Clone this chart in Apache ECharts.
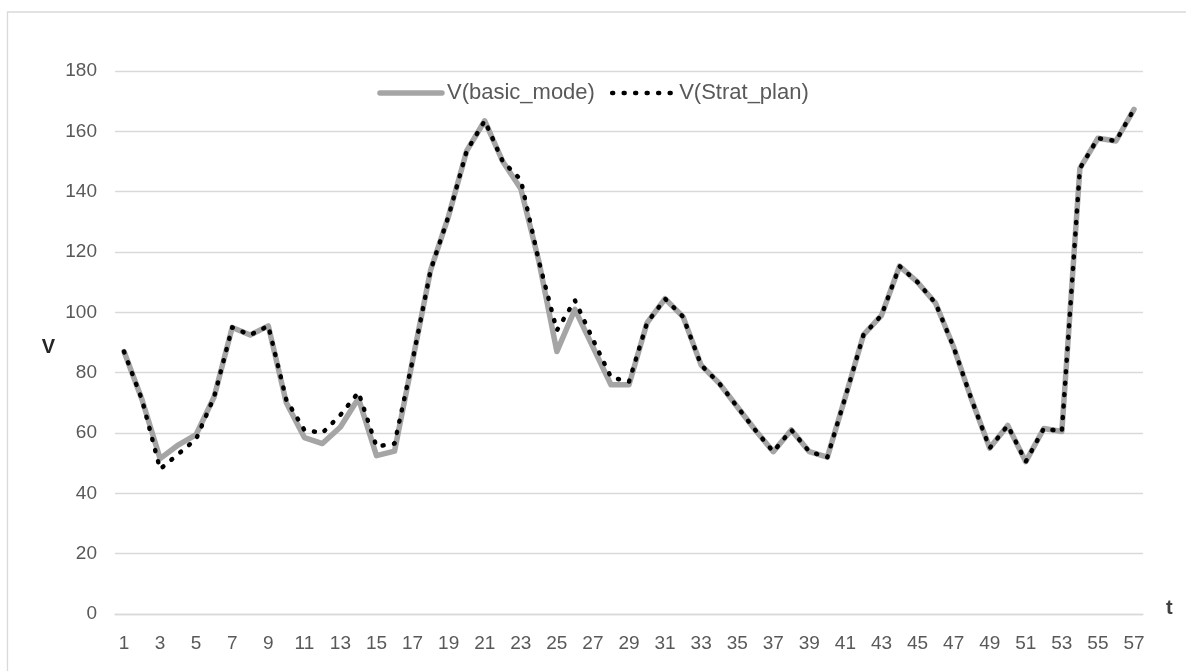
<!DOCTYPE html>
<html>
<head>
<meta charset="utf-8">
<script src="https://cdn.jsdelivr.net/npm/echarts@6/dist/echarts.min.js"></script>
<style>
html,body{margin:0;padding:0;background:#fff;}
#chart{width:1186px;height:671px;}
</style>
</head>
<body>
<div id="chart"></div>
<script>
const categories = ["1","2","3","4","5","6","7","8","9","10","11","12","13","14","15","16","17","18","19","20","21","22","23","24","25","26","27","28","29","30","31","32","33","34","35","36","37","38","39","40","41","42","43","44","45","46","47","48","49","50","51","52","53","54","55","56","57"];
const basicMode = [87,71,51.5,56,59.5,72,95,92.5,95.5,70,58.5,56.5,62,71.5,52.5,54,84,114,132,153.5,163.5,150,141,117,87,101,88.5,76,76,96.5,104.5,98.5,82.5,76.5,68.7,61,53.8,61,53.8,52,72,92.5,99,115.3,110,103,88.5,71,55,62.5,50.5,61.5,60.5,147.7,157.7,156.8,167.3];
const stratPlan = [87,71,48,53,58,72,95,92.5,95.5,71,61,60,66,73.5,55.5,56.5,84,114,132,153.5,163.5,150,144,117,94,104,91,78.5,77,96.5,104.5,98.5,82.5,76.5,68.7,61,53.8,61,53.8,52,72,92.5,99,115.3,110,103,88.5,71,55,62.5,50.5,61.5,60.5,147.7,157.7,156.8,167.3];
const seriesNames = ["V(basic_mode)","V(Strat_plan)"];
const yTicks = {min:0, max:180, interval:20};

const font = "Liberation Sans";
const chart = echarts.init(document.getElementById('chart'), null, {renderer:'canvas'});
chart.setOption({
  animation:false,
  backgroundColor:'#fff',
  graphic:[{type:'rect', shape:{x:7.5,y:12,width:1200,height:700}, style:{fill:'none',stroke:'#d9d9d9',lineWidth:1.3}, silent:true, z:-1}],
  grid:{left:115,right:43,top:71,bottom:57,containLabel:false},
  legend:{
    left:'center', top:77, itemWidth:62, itemHeight:14, itemGap:15,
    data:seriesNames,
    textStyle:{fontFamily:font,fontSize:22,color:'#595959'},
    itemStyle:{opacity:0},
    lineStyle:{width:'inherit'}
  },
  xAxis:{
    type:'category', data:categories, boundaryGap:true,
    name:'t', nameLocation:'end', nameGap:23,
    nameTextStyle:{fontFamily:font,fontSize:20,fontWeight:'bold',color:'#404040',verticalAlign:'bottom',lineHeight:12},
    axisLine:{lineStyle:{color:'#d9d9d9',width:1.3}},
    axisTick:{show:false},
    axisLabel:{interval:1,margin:20,fontFamily:font,fontSize:19,color:'#595959'}
  },
  yAxis:{
    type:'value', min:yTicks.min, max:yTicks.max, interval:yTicks.interval,
    name:'V', nameLocation:'middle', nameRotate:0, nameGap:60,
    nameTextStyle:{fontFamily:font,fontSize:20,fontWeight:'bold',color:'#262626',verticalAlign:'top',lineHeight:10},
    axisLine:{show:false}, axisTick:{show:false},
    axisLabel:{margin:18,fontFamily:font,fontSize:19,color:'#595959'},
    splitLine:{lineStyle:{color:'#d9d9d9',width:1.3}}
  },
  series:[
    {name:seriesNames[0], type:'line', data:basicMode, symbol:'none', smooth:false,
     lineStyle:{color:'#a5a5a5',width:5.5,cap:'round',join:'round'}, itemStyle:{color:'#a5a5a5'}, z:2},
    {name:seriesNames[1], type:'line', data:stratPlan, symbol:'none', smooth:false,
     lineStyle:{color:'#000',width:4.5,type:[1,10.5],cap:'round',join:'round'}, itemStyle:{color:'#000'}, z:3}
  ]
});
</script>
</body>
</html>
